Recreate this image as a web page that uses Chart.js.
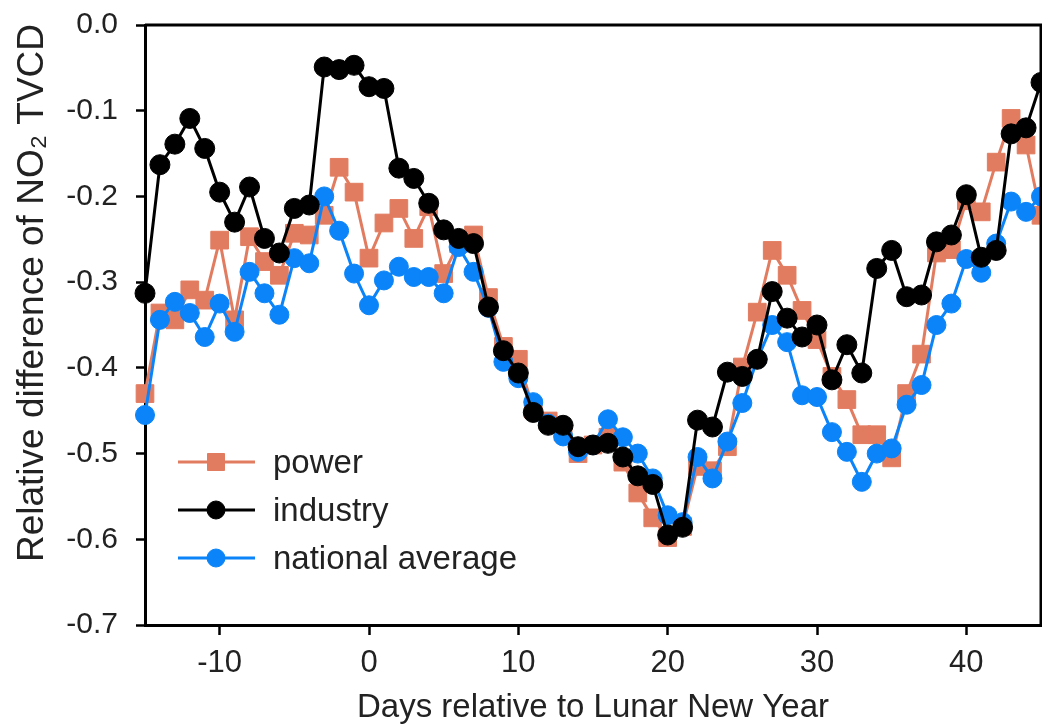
<!DOCTYPE html>
<html>
<head>
<meta charset="utf-8">
<title>NO2 TVCD relative difference</title>
<script src="https://cdn.jsdelivr.net/npm/chart.js@4.4.1/dist/chart.umd.min.js"></script>
<style>
  html, body { margin: 0; padding: 0; background: #fff; overflow: hidden; }
  #wrap { width: 1042px; height: 728px; position: relative; }
</style>
</head>
<body>
<div id="wrap"><canvas id="no2Chart"></canvas></div>
<script>
// days relative to Lunar New Year
const days = [
  -15, -14, -13, -12, -11, -10, -9, -8, -7, -6, -5, -4, -3, -2, -1,
  0, 1, 2, 3, 4, 5, 6, 7, 8, 9, 10, 11, 12, 13, 14, 15,
  16, 17, 18, 19, 20, 21, 22, 23, 24, 25, 26, 27, 28, 29, 30,
  31, 32, 33, 34, 35, 36, 37, 38, 39, 40, 41, 42, 43, 44, 45
];

const power = [
  -0.430, -0.336, -0.344, -0.309, -0.321, -0.251, -0.344, -0.247, -0.276, -0.292, -0.243, -0.245, -0.222, -0.166, -0.195,
  -0.272, -0.231, -0.214, -0.249, -0.212, -0.290, -0.255, -0.245, -0.318, -0.375, -0.390, -0.448, -0.462, -0.475, -0.500, -0.490,
  -0.481, -0.510, -0.546, -0.575, -0.598, -0.585, -0.515, -0.520, -0.492, -0.399, -0.335, -0.263, -0.292, -0.333, -0.367,
  -0.410, -0.437, -0.478, -0.478, -0.505, -0.430, -0.384, -0.266, -0.262, -0.205, -0.218, -0.160, -0.109, -0.140, -0.222
];

const industry = [
  -0.313, -0.163, -0.139, -0.109, -0.144, -0.195, -0.230, -0.189, -0.249, -0.266, -0.214, -0.210, -0.049, -0.052, -0.047,
  -0.072, -0.074, -0.167, -0.179, -0.208, -0.239, -0.249, -0.255, -0.329, -0.380, -0.406, -0.452, -0.467, -0.467, -0.492, -0.490,
  -0.488, -0.504, -0.526, -0.536, -0.595, -0.586, -0.461, -0.469, -0.405, -0.410, -0.390, -0.311, -0.342, -0.364, -0.350,
  -0.414, -0.373, -0.406, -0.284, -0.263, -0.317, -0.315, -0.253, -0.245, -0.198, -0.271, -0.263, -0.127, -0.120, -0.067
];

const national = [
  -0.455, -0.344, -0.323, -0.336, -0.364, -0.325, -0.358, -0.288, -0.313, -0.338, -0.272, -0.278, -0.200, -0.240, -0.290,
  -0.327, -0.298, -0.282, -0.294, -0.294, -0.313, -0.259, -0.288, -0.330, -0.393, -0.412, -0.440, -0.465, -0.480, -0.498, -0.490,
  -0.460, -0.481, -0.500, -0.529, -0.572, -0.580, -0.504, -0.529, -0.486, -0.441, -0.390, -0.350, -0.370, -0.432, -0.434,
  -0.475, -0.498, -0.533, -0.500, -0.494, -0.443, -0.420, -0.350, -0.325, -0.273, -0.289, -0.255, -0.206, -0.218, -0.200
];

const xTicks = [-10, 0, 10, 20, 30, 40];
const yTicks = [-0.7, -0.6, -0.5, -0.4, -0.3, -0.2, -0.1, 0.0];
const yTickLabels = ["-0.7", "-0.6", "-0.5", "-0.4", "-0.3", "-0.2", "-0.1", "0.0"];

const colorPower = "#e27c60";
const colorIndustry = "#000000";
const colorNational = "#0a84f8";
const textColor = "#222222";
const fontFamily = "'Liberation Sans', Arial, sans-serif";

function toPoints(values) {
  return days.map((d, i) => ({ x: d, y: values[i] }));
}

Chart.defaults.font.family = fontFamily;
Chart.defaults.color = textColor;

// legend drawn inside the plot, bottom-left
const insideLegend = {
  id: "insideLegend",
  afterDatasetsDraw(chart) {
    const ctx = chart.ctx;
    const area = chart.chartArea;
    const x0 = area.left + 33;
    let y = area.bottom - 163;
    chart.data.datasets.forEach((ds) => {
      ctx.save();
      ctx.strokeStyle = ds.borderColor;
      ctx.lineWidth = 3;
      ctx.beginPath();
      ctx.moveTo(x0, y);
      ctx.lineTo(x0 + 77, y);
      ctx.stroke();
      ctx.fillStyle = ds.pointBackgroundColor;
      ctx.strokeStyle = ds.pointBackgroundColor;
      ctx.lineWidth = 1;
      Chart.helpers.drawPoint(ctx, {
        pointStyle: ds.pointStyle,
        radius: ds.pointStyle === "rect" ? 12 : 9,
        rotation: 0,
        borderWidth: 1
      }, x0 + 38, y);
      ctx.fillStyle = textColor;
      ctx.font = "33px " + fontFamily;
      ctx.textAlign = "left";
      ctx.textBaseline = "middle";
      ctx.fillText(ds.label, x0 + 95, y + 2);
      ctx.restore();
      y += 48;
    });
  }
};

// top and right edges of the plot box
const plotBox = {
  id: "plotBox",
  afterDraw(chart) {
    const ctx = chart.ctx;
    const a = chart.chartArea;
    ctx.save();
    ctx.strokeStyle = "#000";
    ctx.lineWidth = 3;
    ctx.beginPath();
    ctx.moveTo(a.left, a.top);
    ctx.lineTo(a.right, a.top);
    ctx.lineTo(a.right, a.bottom);
    ctx.stroke();
    ctx.restore();
  }
};

// y axis title, placed like the original (a little above centre)
const yTitle = {
  id: "yTitle",
  afterDraw(chart) {
    const ctx = chart.ctx;
    const a = chart.chartArea;
    ctx.save();
    ctx.translate(33, a.top + 268);
    ctx.rotate(-Math.PI / 2);
    ctx.fillStyle = textColor;
    ctx.font = "37px " + fontFamily;
    ctx.textAlign = "center";
    ctx.textBaseline = "middle";
    ctx.fillText("Relative difference of NO\u2082 TVCD", 0, 0);
    ctx.restore();
  }
};

const ctx = document.getElementById("no2Chart").getContext("2d");
const chart = new Chart(ctx, {
  type: "line",
  data: {
    datasets: [
      {
        label: "power",
        data: toPoints(power),
        borderColor: colorPower,
        backgroundColor: colorPower,
        pointBackgroundColor: colorPower,
        pointBorderColor: colorPower,
        pointStyle: "rect",
        pointRadius: 12.5,
        pointBorderWidth: 1,
        borderWidth: 3,
        tension: 0,
        clip: false,
        order: 2
      },
      {
        label: "industry",
        data: toPoints(industry),
        borderColor: colorIndustry,
        backgroundColor: colorIndustry,
        pointBackgroundColor: colorIndustry,
        pointBorderColor: colorIndustry,
        pointStyle: "circle",
        pointRadius: 10,
        pointBorderWidth: 1,
        borderWidth: 3,
        tension: 0,
        clip: false,
        order: 0
      },
      {
        label: "national average",
        data: toPoints(national),
        borderColor: colorNational,
        backgroundColor: colorNational,
        pointBackgroundColor: colorNational,
        pointBorderColor: colorNational,
        pointStyle: "circle",
        pointRadius: 9.5,
        pointBorderWidth: 1,
        borderWidth: 3,
        tension: 0,
        clip: false,
        order: 1
      }
    ]
  },
  options: {
    responsive: true,
    maintainAspectRatio: false,
    animation: false,
    layout: { autoPadding: false, padding: { top: 25, right: 1, left: 0, bottom: 0 } },
    plugins: {
      legend: { display: false },
      tooltip: { enabled: false }
    },
    scales: {
      x: {
        type: "linear",
        min: -15,
        max: 45,
        afterBuildTicks: (scale) => {
          scale.ticks = xTicks.map((v) => ({ value: v }));
        },
        afterFit: (scale) => {
          scale.height = 103;
          scale.paddingLeft = 0;
          scale.paddingRight = 0;
        },
        border: { display: true, color: "#000", width: 3 },
        grid: {
          display: true,
          drawOnChartArea: false,
          drawTicks: true,
          tickLength: 10,
          tickWidth: 2.5,
          tickColor: "#000"
        },
        ticks: {
          padding: 10,
          color: textColor,
          font: { size: 31 },
          maxRotation: 0
        },
        title: {
          display: true,
          text: "Days relative to Lunar New Year",
          color: textColor,
          font: { size: 33 },
          padding: { top: 0, bottom: 0 }
        }
      },
      y: {
        type: "linear",
        min: -0.7,
        max: 0,
        afterBuildTicks: (scale) => {
          scale.ticks = yTicks.map((v) => ({ value: v }));
        },
        afterFit: (scale) => {
          scale.width = 145;
          scale.paddingTop = 0;
          scale.paddingBottom = 0;
        },
        border: { display: true, color: "#000", width: 3 },
        grid: {
          display: true,
          drawOnChartArea: false,
          drawTicks: true,
          tickLength: 9,
          tickWidth: 2.5,
          tickColor: "#000"
        },
        ticks: {
          padding: 18,
          color: textColor,
          font: { size: 30 },
          callback: (value) => {
            const i = yTicks.findIndex((t) => Math.abs(t - value) < 1e-9);
            return i >= 0 ? yTickLabels[i] : "";
          }
        },
        title: { display: false }
      }
    }
  },
  plugins: [insideLegend, plotBox, yTitle]
});
</script>
</body>
</html>
